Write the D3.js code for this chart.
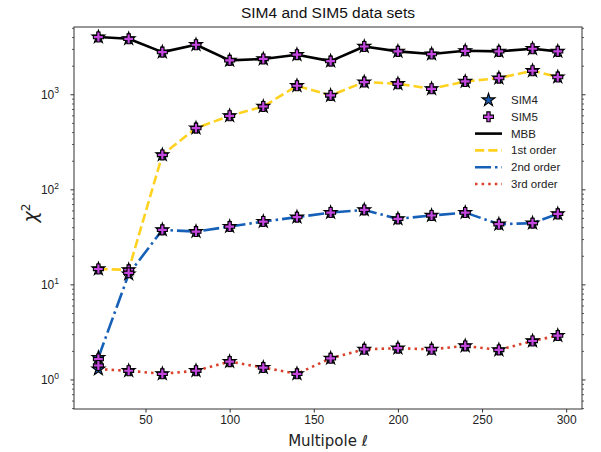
<!DOCTYPE html>
<html>
<head>
<meta charset="utf-8">
<script src="https://cdn.jsdelivr.net/npm/d3@7"></script>
<style>
  html, body { margin: 0; padding: 0; background: #fff; }
  svg { display: block; }
</style>
</head>
<body>
<svg id="chart" width="601" height="452"></svg>
<script>
// ---- data ----
const ell = [22, 40, 60, 80, 100, 120, 140, 160, 180, 200, 220, 240, 260, 280, 295];
const mbbSIM4 = [4050, 3880, 2810, 3360, 2300, 2380, 2640, 2260, 3220, 2860, 2680, 2900, 2860, 3050, 2860];
const mbbSIM5 = [4050, 3880, 2810, 3360, 2300, 2380, 2640, 2260, 3220, 2860, 2680, 2900, 2860, 3050, 2860];
const firstSIM4 = [14.7, 14.4, 233, 446, 601, 753, 1244, 984, 1360, 1306, 1156, 1380, 1497, 1789, 1536];
const firstSIM5 = [14.7, 14.4, 233, 446, 601, 753, 1244, 984, 1360, 1306, 1156, 1380, 1497, 1789, 1536];
const secondSIM4 = [1.72, 13.0, 37.9, 36.4, 41.1, 46.4, 51.6, 57.7, 61.5, 49.5, 53.7, 57.7, 43.5, 44.6, 55.9];
const secondSIM5 = [1.66, 13.4, 37.9, 36.4, 41.1, 46.4, 51.6, 57.7, 61.5, 49.5, 53.7, 57.7, 43.5, 44.6, 55.9];
const thirdSIM4 = [1.30, 1.25, 1.16, 1.25, 1.56, 1.35, 1.16, 1.69, 2.10, 2.16, 2.10, 2.28, 2.07, 2.57, 2.93];
const thirdSIM5 = [1.42, 1.25, 1.16, 1.25, 1.56, 1.35, 1.16, 1.69, 2.10, 2.16, 2.10, 2.28, 2.07, 2.57, 2.93];
const xTicks = [50, 100, 150, 200, 250, 300];
const yMajorExp = [0, 1, 2, 3];
const seriesNames = ["MBB", "1st order", "2nd order", "3rd order"];
const titleText = "SIM4 and SIM5 data sets";
const xLabelText = "Multipole \u2113";

// ---- layout ----
const svg = d3.select("#chart");
const L = 74, R = 582, T = 27, B = 409;
const x = d3.scaleLinear().domain([7.5, 309.4]).range([L, R]);
const y = d3.scaleLog().domain([0.495, 5164]).range([B, T]);

const styles = [
  {color: "#000000", dash: null},
  {color: "#FFD21F", dash: "9.25,4"},
  {color: "#1660B8", dash: "16,4,2.5,4"},
  {color: "#D9412B", dash: "2.5,4.1"}
];
const sim4 = [mbbSIM4, firstSIM4, secondSIM4, thirdSIM4];
const sim5 = [mbbSIM5, firstSIM5, secondSIM5, thirdSIM5];

const axisColor = "#333";
const tickFont = "'Liberation Sans', Arial, sans-serif";

// clip
svg.append("defs").append("clipPath").attr("id", "clip")
  .append("rect").attr("x", L).attr("y", T).attr("width", R - L).attr("height", B - T);

// ---- lines ----
const line = d3.line().x(d => x(d[0])).y(d => y(d[1]));
const plot = svg.append("g").attr("clip-path", "url(#clip)");
sim4.forEach((vals, i) => {
  plot.append("path")
    .attr("d", line(ell.map((e, j) => [e, vals[j]])))
    .attr("fill", "none")
    .attr("stroke", styles[i].color)
    .attr("stroke-width", 2.6)
    .attr("stroke-dasharray", styles[i].dash)
    .attr("stroke-linejoin", "round")
    .attr("stroke-linecap", "butt");
});

const star = d3.symbol().type(d3.symbolStar).size(52);
const plus = d3.symbol().type(d3.symbolCross).size(55);
const starFill = "#1A5AAE", plusFill = "#C447E0";

sim4.forEach((vals) => {
  plot.append("g").selectAll("path").data(ell.map((e, j) => [e, vals[j]])).join("path")
    .attr("d", star)
    .attr("transform", d => `translate(${x(d[0])},${y(d[1])})`)
    .attr("fill", starFill).attr("stroke", "#000").attr("stroke-width", 1.1)
    .attr("stroke-linejoin", "miter");
});
sim5.forEach((vals) => {
  plot.append("g").selectAll("path").data(ell.map((e, j) => [e, vals[j]])).join("path")
    .attr("d", plus)
    .attr("transform", d => `translate(${x(d[0])},${y(d[1])})`)
    .attr("fill", plusFill).attr("stroke", "#000").attr("stroke-width", 1.1);
});

// ---- axes ----
const xAxis = svg.append("g").attr("transform", `translate(0,${B})`)
  .call(d3.axisBottom(x).tickValues(xTicks).tickSize(3.5).tickPadding(3).tickFormat(d3.format("d")));
xAxis.select(".domain").remove();
xAxis.selectAll(".tick line").attr("stroke", axisColor);
xAxis.selectAll(".tick text").attr("fill", "#222").style("font-family", tickFont).style("font-size", "12px");

// y major / minor
const minorVals = [];
for (let e = -1; e <= 3; e++) for (let k = 2; k <= 9; k++) {
  const v = k * Math.pow(10, e);
  if (v >= 0.495 && v <= 5164) minorVals.push(v);
}
const majorVals = yMajorExp.map(e => Math.pow(10, e));

function yTicks(g, side) {
  const dir = side === "left" ? -1 : 1;
  const x0 = side === "left" ? L : R;
  g.selectAll("line.maj").data(majorVals).join("line").attr("class", "maj")
    .attr("x1", x0).attr("x2", x0 + dir * 3.5).attr("y1", d => y(d)).attr("y2", d => y(d))
    .attr("stroke", axisColor).attr("stroke-width", 1);
  g.selectAll("line.min").data(minorVals).join("line").attr("class", "min")
    .attr("x1", x0).attr("x2", x0 + dir * 2).attr("y1", d => y(d)).attr("y2", d => y(d))
    .attr("stroke", axisColor).attr("stroke-width", 0.8);
}
yTicks(svg.append("g"), "left");
yTicks(svg.append("g"), "right");

const yl = svg.append("g").selectAll("text").data(yMajorExp).join("text")
  .attr("x", 59).attr("y", d => y(Math.pow(10, d)) + 4.2)
  .attr("text-anchor", "end")
  .style("font-family", tickFont).style("font-size", "12px").attr("fill", "#222");
yl.append("tspan").text("10");
yl.append("tspan").attr("dy", -5.5).style("font-size", "8.5px").text(d => d);

// frame
svg.append("rect").attr("x", L).attr("y", T).attr("width", R - L).attr("height", B - T)
  .attr("fill", "none").attr("stroke", axisColor).attr("stroke-width", 1);

// ---- labels ----
svg.append("text").attr("x", (L + R) / 2).attr("y", 18).attr("text-anchor", "middle")
  .style("font-family", tickFont).style("font-size", "15.5px").attr("fill", "#111").text(titleText);

svg.append("text").attr("x", (L + R) / 2).attr("y", 446).attr("text-anchor", "middle")
  .style("font-family", "'DejaVu Sans', sans-serif").style("font-size", "15px").attr("fill", "#222")
  .text(xLabelText);

const ylab = svg.append("text").attr("transform", "translate(37,213) rotate(-90)")
  .attr("text-anchor", "middle")
  .style("font-family", "'DejaVu Sans', sans-serif").style("font-size", "19px").attr("fill", "#222");
ylab.append("tspan").style("font-style", "italic").text("\u03C7");
ylab.append("tspan").attr("dy", -7).style("font-size", "12px").text("2");

// ---- legend ----
const legendItems = [
  {label: "SIM4", type: "star"},
  {label: "SIM5", type: "plus"},
  ...seriesNames.map((n, i) => ({label: n, type: "line", style: styles[i]}))
];
const lg = svg.append("g");
legendItems.forEach((it, i) => {
  const cy = 100 + i * 16.8;
  if (it.type === "star") {
    lg.append("path").attr("d", star).attr("transform", `translate(488.5,${cy})`)
      .attr("fill", starFill).attr("stroke", "#000").attr("stroke-width", 1.1);
  } else if (it.type === "plus") {
    lg.append("path").attr("d", plus).attr("transform", `translate(488.5,${cy})`)
      .attr("fill", plusFill).attr("stroke", "#000").attr("stroke-width", 1.1);
  } else {
    lg.append("line").attr("x1", 475).attr("x2", 502).attr("y1", cy).attr("y2", cy)
      .attr("stroke", it.style.color).attr("stroke-width", 2.6)
      .attr("stroke-dasharray", it.style.dash);
  }
  lg.append("text").attr("x", 511).attr("y", cy + 4)
    .style("font-family", tickFont).style("font-size", "11.5px").attr("fill", "#222")
    .text(it.label);
});
</script>
</body>
</html>
